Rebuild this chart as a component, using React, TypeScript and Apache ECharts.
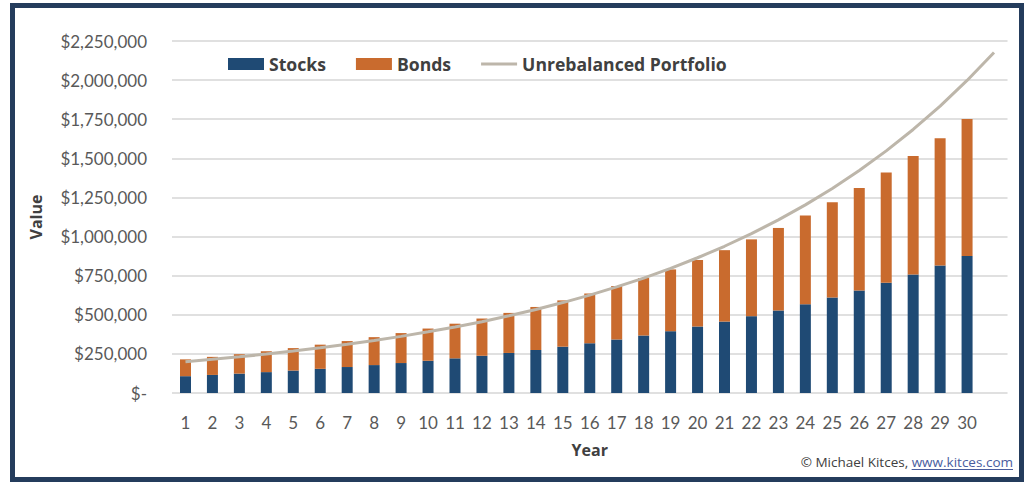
import React, { useEffect, useRef } from "react";
import * as echarts from "echarts";

const years = ["1","2","3","4","5","6","7","8","9","10","11","12","13","14","15","16","17","18","19","20","21","22","23","24","25","26","27","28","29","30",""];
const stocks = [107500,115500,124000,133500,143500,154500,166000,178500,191500,206000,221500,238000,256000,275000,296000,318000,342000,367500,395000,425000,456500,491000,527500,567500,610000,655500,704500,757500,814500,875500];
const bonds = [107500,115500,124000,133500,143500,154500,166000,178500,191500,206000,221500,238000,256000,275000,296000,318000,342000,367500,395000,425000,456500,491000,527500,567500,610000,655500,704500,757500,814500,875500];
const unrebalanced = [200000,215000,231000,249000,268000,289000,311000,335500,362000,391000,422000,456000,493500,534000,578000,625500,678000,734500,796500,864500,938000,1018500,1106500,1202500,1307500,1422000,1547500,1684500,1834000,1998000,2177000];
const yTicks = { min: 0, max: 2250000, interval: 250000 };

const FONT = "Lato, 'Noto Sans', sans-serif";
const LEGEND_FONT = "'Open Sans', Lato, sans-serif";
const CREDIT_FONT = "'Open Sans', Lato, sans-serif";

export default function App() {
  const ref = useRef<HTMLDivElement>(null);
  useEffect(() => {
    if (!ref.current) return;
    const chart = echarts.init(ref.current, null, { renderer: "svg" });

    const creditSize = 13.5;
    const ctx = document.createElement("canvas").getContext("2d");
    let linkW = 110;
    if (ctx) {
      ctx.font = `${creditSize}px ${CREDIT_FONT}`;
      linkW = ctx.measureText("www.kitces.com").width;
    }
    const creditRight = 1013;

    chart.setOption({
      animation: false,
      backgroundColor: "#ffffff",
      textStyle: { fontFamily: FONT },
      grid: { left: 172, right: 18.5, top: 41, bottom: 89, containLabel: false },
      legend: {
        left: 228,
        top: 55,
        padding: 0,
        itemWidth: 36,
        itemHeight: 12,
        itemGap: 30,
        textStyle: { fontFamily: LEGEND_FONT, fontSize: 17.6, fontWeight: "bold", color: "#404040" },
        data: [
          { name: "Stocks", icon: "rect" },
          { name: "Bonds", icon: "rect" },
          {
            name: "Unrebalanced Portfolio",
            icon: "path://M0,0 L0,0 M0,4.5 L36,4.5 L36,7.5 L0,7.5 Z M36,12 L36,12",
            itemStyle: { color: "#bdb6aa" },
          },
        ],
      },
      xAxis: {
        type: "category",
        data: years,
        name: "Year",
        nameLocation: "middle",
        nameGap: 49,
        nameTextStyle: { fontFamily: LEGEND_FONT, fontSize: 16, fontWeight: "bold", color: "#404040" },
        axisLine: { show: false },
        axisTick: { show: false },
        axisLabel: { fontFamily: FONT, fontSize: 17, color: "#595959", margin: 21, interval: 0 },
      },
      yAxis: {
        type: "value",
        min: yTicks.min,
        max: yTicks.max,
        interval: yTicks.interval,
        name: "Value",
        nameLocation: "middle",
        nameRotate: 90,
        nameGap: 128,
        nameTextStyle: { fontFamily: LEGEND_FONT, fontSize: 16, fontWeight: "bold", color: "#404040" },
        axisLine: { show: false },
        axisTick: { show: false },
        axisLabel: {
          fontFamily: FONT,
          fontSize: 17,
          color: "#595959",
          margin: 25,
          formatter: (v: number) => (v === 0 ? "$-" : "$" + v.toLocaleString("en-US")),
        },
        splitLine: { lineStyle: { color: "#e0e0e0", width: 2 } },
      },
      series: [
        {
          name: "Stocks",
          type: "bar",
          stack: "total",
          barWidth: 11,
          itemStyle: { color: "#1f4a74" },
          data: stocks,
        },
        {
          name: "Bonds",
          type: "bar",
          stack: "total",
          barWidth: 11,
          itemStyle: { color: "#c96b2e" },
          data: bonds,
        },
        {
          name: "Unrebalanced Portfolio",
          type: "line",
          symbol: "none",
          lineStyle: { color: "#bdb6aa", width: 3 },
          itemStyle: { color: "#bdb6aa" },
          data: unrebalanced,
          z: 5,
        },
      ],
      graphic: [
        {
          type: "rect",
          shape: { x: 12.5, y: 5.5, width: 1009, height: 474 },
          style: { fill: "none", stroke: "#243c5c", lineWidth: 5 },
          z: 100,
        },
        {
          type: "text",
          x: creditRight - linkW,
          y: 462,
          style: {
            text: "© Michael Kitces, ",
            align: "right",
            verticalAlign: "middle",
            font: `${creditSize}px ${CREDIT_FONT}`,
            fill: "#404040",
          },
        },
        {
          type: "text",
          x: creditRight,
          y: 462,
          style: {
            text: "www.kitces.com",
            align: "right",
            verticalAlign: "middle",
            font: `${creditSize}px ${CREDIT_FONT}`,
            fill: "#4a5d9e",
          },
        },
        {
          type: "line",
          shape: { x1: creditRight - linkW, y1: 469.5, x2: creditRight, y2: 469.5 },
          style: { stroke: "#4a5d9e", lineWidth: 1 },
        },
      ],
    });
    return () => chart.dispose();
  }, []);
  return (
    <div style={{ position: "fixed", left: 0, top: 0, width: 1026, height: 482 }}>
      <div ref={ref} style={{ width: 1026, height: 482 }} />
    </div>
  );
}
